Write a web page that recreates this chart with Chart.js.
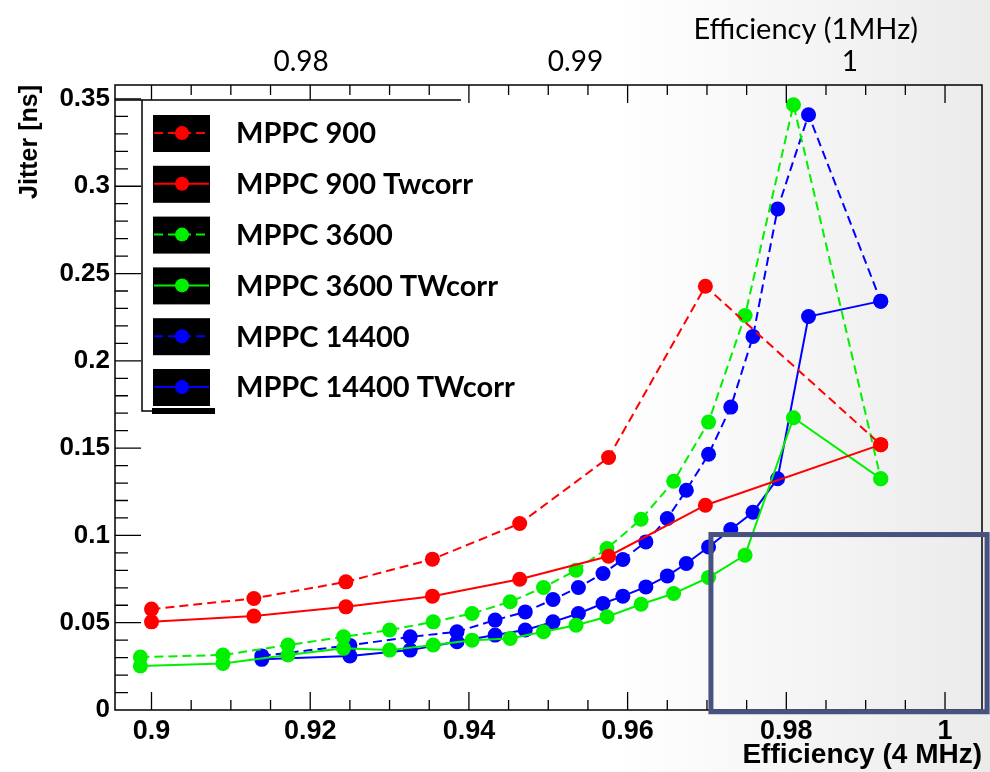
<!DOCTYPE html>
<html>
<head>
<meta charset="utf-8">
<script src="https://cdn.jsdelivr.net/npm/chart.js@4.4.0/dist/chart.umd.min.js"></script>
<style>
    html, body { margin: 0; padding: 0; }
    body {
        width: 990px; height: 772px; overflow: hidden;
        background: linear-gradient(to right, #ffffff 0%, #ffffff 62%, #ebebeb 100%);
    }
    canvas { display: block; }
</style>
</head>
<body>
<canvas id="jitterChart" width="990" height="772"></canvas>
<script>
// efficiency at 4 MHz (x) and jitter in ns (y)
var effMppc900 = [0.9, 0.9129, 0.9245, 0.9354, 0.9464, 0.9576, 0.9698, 0.9919];
var jitMppc900 = [0.0578, 0.0639, 0.0734, 0.0864, 0.1068, 0.1446, 0.2427, 0.152];
var jitMppc900Tw = [0.0505, 0.0538, 0.0591, 0.0652, 0.0749, 0.0881, 0.1173, 0.152];

var effMppc3600 = [0.8986, 0.909, 0.9172, 0.9242, 0.930, 0.9355, 0.9404, 0.9452, 0.9494,
    0.9535, 0.9574, 0.9617, 0.9658, 0.9702, 0.9748, 0.9809, 0.9919];
var jitMppc3600 = [0.0303, 0.0315, 0.0372, 0.0419, 0.0458, 0.0505, 0.0553, 0.062, 0.0702,
    0.0801, 0.0925, 0.1093, 0.131, 0.1649, 0.226, 0.3467, 0.1325];
var jitMppc3600Tw = [0.0252, 0.0267, 0.0315, 0.0353, 0.0343, 0.0372, 0.040, 0.041, 0.0448,
    0.0486, 0.0534, 0.0606, 0.0667, 0.0759, 0.0887, 0.1674, 0.1325];

var effMppc14400 = [0.9139, 0.925, 0.9326, 0.9385, 0.9433, 0.9471, 0.9506, 0.9538, 0.9569,
    0.9594, 0.9623, 0.965, 0.9674, 0.9702, 0.973, 0.9758, 0.9789, 0.9828, 0.9919];
var jitMppc14400 = [0.031, 0.037, 0.0419, 0.0448, 0.0515, 0.0562, 0.0633, 0.0702, 0.0782,
    0.0862, 0.0963, 0.1097, 0.1259, 0.1465, 0.1735, 0.214, 0.287, 0.341, 0.2342];
var jitMppc14400Tw = [0.029, 0.031, 0.0343, 0.0391, 0.0429, 0.0458, 0.0505, 0.0553, 0.061,
    0.0652, 0.0705, 0.0768, 0.0839, 0.0934, 0.1034, 0.1133, 0.1325, 0.2254, 0.2342];

var seriesNames = ["MPPC 900", "MPPC 900 Twcorr", "MPPC 3600", "MPPC 3600 TWcorr", "MPPC 14400", "MPPC 14400 TWcorr"];

// axis ticks
var xTickValues = [0.9, 0.92, 0.94, 0.96, 0.98, 1.0];
var xTickLabels = ["0.9", "0.92", "0.94", "0.96", "0.98", "1"];
var topTickValues = [0.98, 0.99, 1.0];
var topTickLabels = ["0.98", "0.99", "1"];
var yTickValues = [0, 0.05, 0.1, 0.15, 0.2, 0.25, 0.3, 0.35];
var yTickLabels = ["0", "0.05", "0.1", "0.15", "0.2", "0.25", "0.3", "0.35"];

function toPoints(xs, ys) {
    return xs.map(function (x, i) { return { x: x, y: ys[i] }; });
}

function series(label, xs, ys, color, dashed) {
    return {
        label: label,
        data: toPoints(xs, ys),
        showLine: true,
        borderColor: color,
        backgroundColor: color,
        borderWidth: 2,
        borderDash: dashed ? [9, 5] : [],
        pointRadius: 7.5,
        pointBorderWidth: 0,
        pointHoverRadius: 7.5
    };
}

// ROOT style frame, inward ticks, boxed legend and the slide's highlight box
var rootStyle = {
    id: "rootStyle",
    afterDatasetsDraw: function (chart) {
        var ctx = chart.ctx;
        var a = chart.chartArea;
        var xs = chart.scales.x, ys = chart.scales.y;
        ctx.save();
        ctx.strokeStyle = "#000";
        ctx.lineWidth = 1.5;
        ctx.strokeRect(a.left, a.top, a.right - a.left, a.bottom - a.top);

        ctx.lineWidth = 1.3;
        ctx.beginPath();
        var v, px, major;
        for (var k = 0; k <= 24; k++) {
            v = 0.885 + k * 0.005;
            px = xs.getPixelForValue(v);
            if (px < a.left + 1 || px > a.right - 1) continue;
            major = Math.abs(Math.round(v / 0.02) * 0.02 - v) < 1e-6;
            var len = major ? 18 : 10;
            ctx.moveTo(px, a.bottom); ctx.lineTo(px, a.bottom - len);
            ctx.moveTo(px, a.top); ctx.lineTo(px, a.top + len);
        }
        for (k = 1; k <= 35; k++) {
            v = k * 0.01;
            px = ys.getPixelForValue(v);
            major = k % 5 === 0;
            ctx.moveTo(a.left, px); ctx.lineTo(a.left + (major ? 26 : 13), px);
        }
        ctx.stroke();

        // legend
        ctx.fillStyle = "#fff";
        ctx.fillRect(142, 100, 319, 311);
        ctx.lineWidth = 1.5;
        ctx.beginPath();
        ctx.moveTo(a.left, 100); ctx.lineTo(461, 100);
        ctx.moveTo(142, 100); ctx.lineTo(142, 411);
        ctx.lineTo(215, 411);
        ctx.stroke();
        ctx.fillStyle = "#000";
        ctx.fillRect(152, 408, 63, 6);
        chart.data.datasets.forEach(function (ds, i) {
            var cy = 133 + i * 50.8;
            ctx.fillStyle = "#000";
            ctx.fillRect(153, cy - 18, 57, 37);
            ctx.strokeStyle = ds.borderColor;
            ctx.lineWidth = 2;
            ctx.setLineDash(ds.borderDash);
            ctx.beginPath();
            ctx.moveTo(154, cy); ctx.lineTo(209, cy);
            ctx.stroke();
            ctx.setLineDash([]);
            ctx.fillStyle = ds.backgroundColor;
            ctx.beginPath();
            ctx.arc(182, cy, 7, 0, Math.PI * 2);
            ctx.fill();
            ctx.fillStyle = "#000";
            ctx.font = "bold 29px Lato";
            ctx.textBaseline = "middle";
            ctx.textAlign = "left";
            ctx.fillText(ds.label, 236, cy + 1);
        });

        // top axis title (1 MHz)
        ctx.font = "29px Lato";
        ctx.textAlign = "right";
        ctx.textBaseline = "middle";
        ctx.fillText("Efficiency (1MHz)", 918, 30);

        // highlight rectangle placed on the slide
        var rx0 = xs.getPixelForValue(0.9705), rx1 = xs.getPixelForValue(1.0053);
        var ry0 = ys.getPixelForValue(0.1005), ry1 = ys.getPixelForValue(-0.001);
        ctx.strokeStyle = "#47527f";
        ctx.lineWidth = 5;
        ctx.strokeRect(rx0, ry0, rx1 - rx0, ry1 - ry0);
        ctx.restore();
    }
};

document.addEventListener("DOMContentLoaded", function () {
    var ctx = document.getElementById("jitterChart").getContext("2d");
    new Chart(ctx, {
        type: "scatter",
        data: {
            datasets: [
                series(seriesNames[0], effMppc900, jitMppc900, "#ff0000", true),
                series(seriesNames[1], effMppc900, jitMppc900Tw, "#ff0000", false),
                series(seriesNames[2], effMppc3600, jitMppc3600, "#00f000", true),
                series(seriesNames[3], effMppc3600, jitMppc3600Tw, "#00f000", false),
                series(seriesNames[4], effMppc14400, jitMppc14400, "#0000ff", true),
                series(seriesNames[5], effMppc14400, jitMppc14400Tw, "#0000ff", false)
            ]
        },
        options: {
            responsive: false,
            animation: false,
            devicePixelRatio: 1,
            layout: { padding: { left: 0, right: 8, top: 0, bottom: 0 } },
            plugins: {
                legend: { display: false },
                tooltip: { enabled: false }
            },
            scales: {
                x: {
                    type: "linear",
                    position: "bottom",
                    min: 0.8954,
                    max: 1.00466,
                    grid: { display: false, drawTicks: false },
                    border: { display: false },
                    afterBuildTicks: function (axis) {
                        axis.ticks = xTickValues.map(function (v) { return { value: v }; });
                    },
                    afterFit: function (axis) { axis.height = 62; },
                    ticks: {
                        autoSkip: false,
                        maxRotation: 0,
                        padding: 5,
                        color: "#000",
                        font: { family: "'Liberation Sans Narrow', 'Liberation Sans'", weight: "bold", size: 27 },
                        callback: function (value, index) { return xTickLabels[index]; }
                    },
                    title: {
                        display: true,
                        text: "Efficiency (4 MHz)",
                        align: "end",
                        color: "#000",
                        padding: { top: 0, bottom: 0 },
                        font: { family: "'Liberation Sans Narrow', 'Liberation Sans'", weight: "bold", size: 28 }
                    }
                },
                x2: {
                    type: "linear",
                    position: "top",
                    min: 0.97322,
                    max: 1.00481,
                    grid: { display: false, drawTicks: false },
                    border: { display: false },
                    afterBuildTicks: function (axis) {
                        axis.ticks = topTickValues.map(function (v) { return { value: v }; });
                    },
                    afterFit: function (axis) { axis.height = 85; },
                    ticks: {
                        autoSkip: false,
                        maxRotation: 0,
                        padding: 6,
                        color: "#000",
                        font: { family: "Lato", size: 28 },
                        callback: function (value, index) { return topTickLabels[index]; }
                    }
                },
                y: {
                    min: 0,
                    max: 0.358,
                    grid: { display: false, drawTicks: false },
                    border: { display: false },
                    afterBuildTicks: function (axis) {
                        axis.ticks = yTickValues.map(function (v) { return { value: v }; });
                    },
                    afterFit: function (axis) { axis.width = 115; },
                    ticks: {
                        autoSkip: false,
                        padding: 5,
                        color: "#000",
                        font: { family: "'Liberation Sans'", weight: "bold", size: 26 },
                        callback: function (value, index) { return yTickLabels[index]; }
                    },
                    title: {
                        display: true,
                        text: "Jitter [ns]",
                        align: "end",
                        color: "#000",
                        padding: { top: 15, bottom: 0 },
                        font: { family: "'Liberation Sans Narrow', 'Liberation Sans'", weight: "bold", size: 25 }
                    }
                }
            }
        },
        plugins: [rootStyle]
    });
});
</script>
</body>
</html>
